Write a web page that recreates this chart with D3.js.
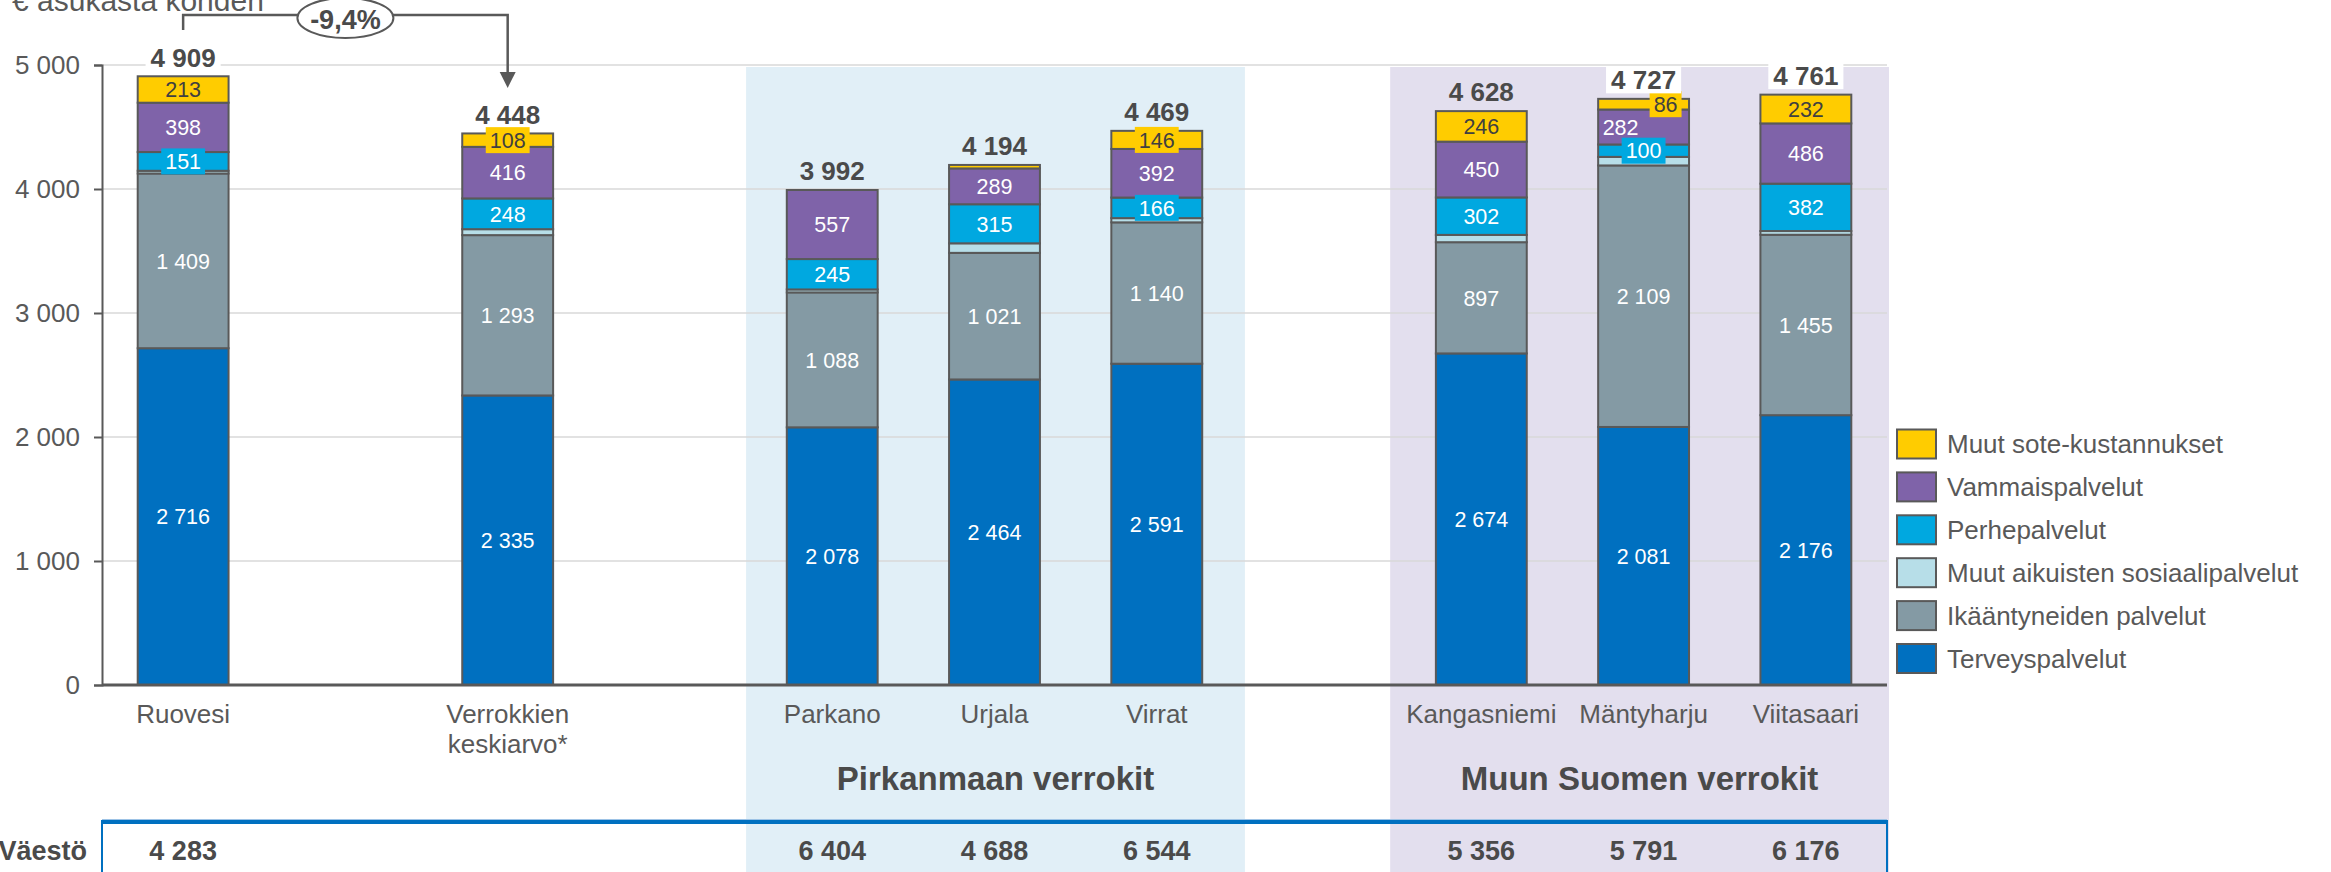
<!DOCTYPE html>
<html>
<head>
<meta charset="utf-8">
<title>sote-kustannukset</title>
<script src="https://cdn.jsdelivr.net/npm/d3@7/dist/d3.min.js"></script>
<style>
  body { margin: 0; background: #fff; }
  svg text { font-family: "Liberation Sans", Arial, sans-serif; }
</style>
</head>
<body>
<script>
var width = 2331, height = 872;

// chart data
var slots = ["Ruovesi", "gap1", "Verrokkien keskiarvo*", "gap2", "Parkano", "Urjala", "Virrat", "gap3", "Kangasniemi", "Mäntyharju", "Viitasaari"];
var categories = ["Ruovesi", "Verrokkien keskiarvo*", "Parkano", "Urjala", "Virrat", "Kangasniemi", "Mäntyharju", "Viitasaari"];
var seriesNames = ["Terveyspalvelut", "Ikääntyneiden palvelut", "Muut aikuisten sosiaalipalvelut", "Perhepalvelut", "Vammaispalvelut", "Muut sote-kustannukset"];
var terveys      = [2716, 2335, 2078, 2464, 2591, 2674, 2081, 2176];
var ikaantyneet  = [1409, 1293, 1088, 1021, 1140,  897, 2109, 1455];
var muutAikuiset = [  22,   48,   24,   77,   34,   59,   69,   30];
var perhe        = [ 151,  248,  245,  315,  166,  302,  100,  382];
var vammais      = [ 398,  416,  557,  289,  392,  450,  282,  486];
var muutSote     = [ 213,  108,    0,   28,  146,  246,   86,  232];
var totals       = [4909, 4448, 3992, 4194, 4469, 4628, 4727, 4761];
var vaesto       = [4283, null, 6404, 4688, 6544, 5356, 5791, 6176];
var groupNames = ["Pirkanmaan verrokit", "Muun Suomen verrokit"];
var groupMembers = [["Parkano", "Urjala", "Virrat"], ["Kangasniemi", "Mäntyharju", "Viitasaari"]];
var yTicks = [0, 1000, 2000, 3000, 4000, 5000];

var colors = ["#0070C0", "#849AA4", "#B7DEE8", "#00A8E0", "#7F63A9", "#FFCC00"];
var gray = "#595959", dark = "#4a4a4a";

var fi = d3.formatLocale({decimal: ",", thousands: " ", grouping: [3], currency: ["", " €"], minus: "-"});
var fmt = fi.format(",d");

var svg = d3.select("body").append("svg").attr("width", width).attr("height", height);

var x = d3.scaleBand().domain(slots).range([102, 1887]).paddingInner(0.44).paddingOuter(0.22);
var y = d3.scaleLinear().domain([0, 5000]).range([685, 65]);
var bw = x.bandwidth();
var cx = function(c){ return x(c) + bw / 2; };

// group backgrounds
var bgPad = [[-5, 7], [-10, 2]];
var bgFill = ["#E1EFF7", "#E3DFEE"];
groupMembers.forEach(function(m, g){
  var half = (x.step() - bw) / 2;
  var x0 = x(m[0]) - half + bgPad[g][0];
  var x1 = x(m[m.length - 1]) + bw + half + bgPad[g][1];
  svg.append("rect").attr("x", x0).attr("y", 67).attr("width", x1 - x0).attr("height", height - 67).attr("fill", bgFill[g]);
  svg.append("text").attr("x", (x0 + x1) / 2).attr("y", 790).attr("text-anchor", "middle")
    .attr("font-size", 33).attr("font-weight", "bold").attr("fill", dark).text(groupNames[g]);
});

// gridlines
svg.selectAll(".grid").data(yTicks.slice(1)).enter().append("line")
  .attr("x1", 102).attr("x2", 1887).attr("y1", function(d){ return y(d); }).attr("y2", function(d){ return y(d); })
  .attr("stroke", "#D9D9D9").attr("stroke-width", 1.5);

// y axis
var yAxis = d3.axisLeft(y).tickValues(yTicks).tickSize(8).tickPadding(14).tickFormat(fmt);
var ga = svg.append("g").attr("transform", "translate(102,0)").call(yAxis);
ga.select(".domain").attr("stroke", gray).attr("stroke-width", 2);
ga.selectAll(".tick line").attr("stroke", gray).attr("stroke-width", 2);
ga.selectAll(".tick text").attr("font-size", 26).attr("fill", gray).style("font-family", "Liberation Sans, Arial, sans-serif");

// stacked bars
var rows = categories.map(function(c, i){
  var r = {cat: c};
  [terveys, ikaantyneet, muutAikuiset, perhe, vammais, muutSote].forEach(function(arr, k){ r[seriesNames[k]] = arr[i]; });
  return r;
});
var stack = d3.stack().keys(seriesNames)(rows);

var layers = svg.selectAll(".layer").data(stack).enter().append("g")
  .attr("fill", function(d, i){ return colors[i]; });
layers.selectAll("rect").data(function(d){ return d; }).enter().append("rect")
  .attr("x", function(d){ return x(d.data.cat); })
  .attr("y", function(d){ return y(d[1]); })
  .attr("width", bw)
  .attr("height", function(d){ return y(d[0]) - y(d[1]); })
  .attr("stroke", gray).attr("stroke-width", 2);

// x axis line
svg.append("line").attr("x1", 102).attr("x2", 1887).attr("y1", 685).attr("y2", 685).attr("stroke", gray).attr("stroke-width", 3);

// segment labels
var nudge = {"Mäntyharju|Muut sote-kustannukset": 22, "Mäntyharju|Vammaispalvelut": -23};
stack.forEach(function(layer, k){
  if (seriesNames[k] === "Muut aikuisten sosiaalipalvelut") return;
  layer.forEach(function(d){
    var v = d[1] - d[0];
    if (v < 80) return;
    var h = y(d[0]) - y(d[1]);
    var lx = cx(d.data.cat) + (nudge[d.data.cat + "|" + seriesNames[k]] || 0);
    var ly = (y(d[0]) + y(d[1])) / 2;
    var g = svg.append("g");
    var t = g.append("text").attr("x", lx).attr("y", ly).attr("dy", "0.36em").attr("text-anchor", "middle")
      .attr("font-size", 21.5).attr("fill", k === 5 ? "#404040" : "#fff").text(fmt(v));
    if (h < 26) {
      var tw = t.node().getComputedTextLength();
      g.insert("rect", "text").attr("x", lx - tw / 2 - 4).attr("y", ly - 13).attr("width", tw + 8).attr("height", 26).attr("fill", colors[k]);
    }
  });
});

// total labels
totals.forEach(function(v, i){
  var c = categories[i];
  var ty = y(v) - 19;
  var g = svg.append("g");
  var t = g.append("text").attr("x", cx(c)).attr("y", ty).attr("dy", "0.36em").attr("text-anchor", "middle")
    .attr("font-size", 26).attr("font-weight", "bold").attr("fill", dark).text(fmt(v));
  if (v > 4700) {
    var tw = t.node().getComputedTextLength();
    g.insert("rect", "text").attr("x", cx(c) - tw / 2 - 5).attr("y", ty - 13.5).attr("width", tw + 10).attr("height", 27).attr("fill", "#fff");
  }
});

// category labels
categories.forEach(function(c){
  var t = svg.append("text").attr("x", cx(c)).attr("y", 723).attr("text-anchor", "middle").attr("font-size", 26).attr("fill", gray);
  c.split(" ").forEach(function(w, j){
    t.append("tspan").attr("x", cx(c)).attr("dy", j ? 30 : 0).text(w);
  });
});

// legend
var leg = svg.append("g");
seriesNames.slice().reverse().forEach(function(s, j){
  var ly = 444 + j * 42.9;
  leg.append("rect").attr("x", 1897).attr("y", ly - 14.5).attr("width", 39).attr("height", 29)
    .attr("fill", colors[seriesNames.indexOf(s)]).attr("stroke", gray).attr("stroke-width", 2);
  leg.append("text").attr("x", 1947).attr("y", ly).attr("dy", "0.36em").attr("font-size", 26).attr("fill", gray).text(s);
});

// population table
svg.append("line").attr("x1", 102).attr("x2", 1887).attr("y1", 822).attr("y2", 822).attr("stroke", "#0070C0").attr("stroke-width", 4);
svg.append("line").attr("x1", 102).attr("x2", 1887).attr("y1", 819.5).attr("y2", 819.5).attr("stroke", "#9DC3E6").attr("stroke-width", 1);
[102, 1887].forEach(function(xx){
  svg.append("line").attr("x1", xx).attr("x2", xx).attr("y1", 820).attr("y2", height).attr("stroke", "#0070C0").attr("stroke-width", 2);
});
svg.append("text").attr("x", 87).attr("y", 850).attr("dy", "0.36em").attr("text-anchor", "end")
  .attr("font-size", 27).attr("font-weight", "bold").attr("fill", dark).text("Väestö");
vaesto.forEach(function(v, i){
  if (v == null) return;
  svg.append("text").attr("x", cx(categories[i])).attr("y", 850).attr("dy", "0.36em").attr("text-anchor", "middle")
    .attr("font-size", 27).attr("font-weight", "bold").attr("fill", dark).text(fmt(v));
});

// change annotation
var xa = cx(categories[0]), xb = cx(categories[1]);
var change = (totals[1] - totals[0]) / totals[0] * 100;
svg.append("path").attr("d", "M" + xa + ",30V15H" + xb + "V74").attr("fill", "none").attr("stroke", gray).attr("stroke-width", 2.5);
svg.append("path").attr("d", "M" + (xb - 8) + ",72L" + (xb + 8) + ",72L" + xb + ",88Z").attr("fill", gray);
svg.append("ellipse").attr("cx", (xa + xb) / 2).attr("cy", 18).attr("rx", 48).attr("ry", 20).attr("fill", "#fff").attr("stroke", gray).attr("stroke-width", 2);
svg.append("text").attr("x", (xa + xb) / 2).attr("y", 19).attr("dy", "0.36em").attr("text-anchor", "middle")
  .attr("font-size", 27).attr("font-weight", "bold").attr("fill", dark)
  .text(fi.format(".1f")(change) + "%");

// title (cut off at the top in the original)
svg.append("text").attr("x", 12).attr("y", 11).attr("font-size", 30).attr("fill", gray).text("€ asukasta kohden");
</script>
</body>
</html>
